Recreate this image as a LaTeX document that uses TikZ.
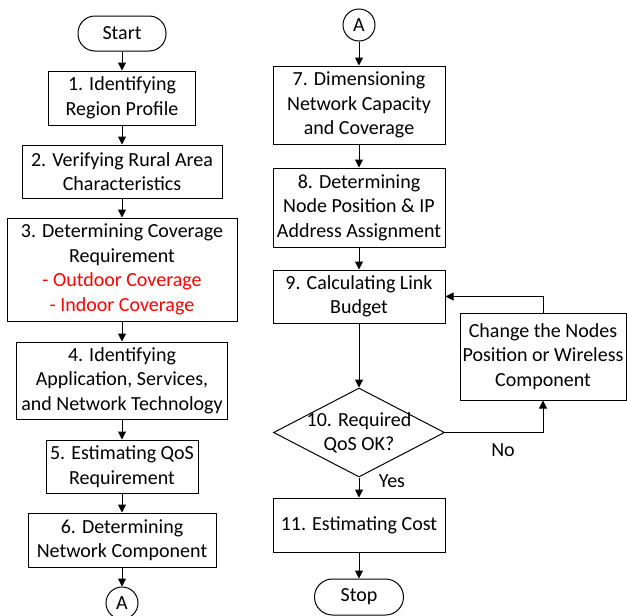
\documentclass[tikz,border=0pt]{standalone}
\usepackage{fontspec}
\setmainfont{Carlito}
\usetikzlibrary{shapes.geometric,arrows.meta}
\definecolor{myred}{RGB}{255,0,0}
\begin{document}
\begin{tikzpicture}[x=1pt,y=-1pt,
  every node/.style={font=\fontsize{20}{24.5}\selectfont, align=center, inner sep=0pt},
  box/.style={draw, line width=1pt, rectangle},
  term/.style={draw, line width=1pt, rounded corners=17pt, rectangle},
  conn/.style={draw, line width=1pt, circle, minimum size=32pt},
  arr/.style={line width=1pt, -{Triangle[length=8pt,width=8pt]}}]
\clip (0,0) rectangle (627,616);
\useasboundingbox (0,0) rectangle (627,616);
% left column
\node[term, minimum width=88pt, minimum height=35pt] (start) at (122,33.5) {Start};
\node[box, minimum width=147pt, minimum height=54pt] (b1) at (122,98) {1. Identifying\\Region Profile};
\node[box, minimum width=200pt, minimum height=53pt] (b2) at (122,171.5) {2. Verifying Rural Area\\Characteristics};
\node[box, minimum width=230pt, minimum height=103pt] (b3) at (122,269.5) {3. Determining Coverage\\Requirement\\\textcolor{myred}{- Outdoor Coverage}\\\textcolor{myred}{- Indoor Coverage}};
\node[box, minimum width=211pt, minimum height=77pt] (b4) at (122,380.5) {4. Identifying\\Application, Services,\\and Network Technology};
\node[box, minimum width=152pt, minimum height=53pt] (b5) at (122,466.5) {5. Estimating QoS\\Requirement};
\node[box, minimum width=188pt, minimum height=54pt] (b6) at (122,540) {6. Determining\\Network Component};
\node[conn] (a1) at (122,603) {A};
% right column
\node[conn] (a2) at (359,25) {A};
\node[box, minimum width=172pt, minimum height=78pt] (b7) at (359,105) {7. Dimensioning\\Network Capacity\\and Coverage};
\node[box, minimum width=172pt, minimum height=79pt] (b8) at (359,207.5) {8. Determining\\Node Position \& IP\\Address Assignment};
\node[box, minimum width=172pt, minimum height=53pt] (b9) at (359,296.5) {9. Calculating Link\\Budget};
\node[draw, line width=1pt, diamond, minimum width=171pt, minimum height=89pt] (dia) at (359,432.5) {};
\node (diat) at (359,433) {10. Required\\QoS OK?};
\node[box, minimum width=172pt, minimum height=54pt] (b11) at (359,525) {11. Estimating Cost};
\node[term, minimum width=89pt, minimum height=36pt, rounded corners=18pt] (stop) at (359,597) {Stop};
\node[box, minimum width=166pt, minimum height=87pt] (chg) at (543,356.5) {Change the Nodes\\Position or Wireless\\Component};
\node (no) at (503,450) {No};
\node (yes) at (392,481) {Yes};
% connectors
\draw[arr] (start) -- (b1);
\draw[arr] (b1) -- (b2);
\draw[arr] (b2) -- (b3);
\draw[arr] (b3) -- (b4);
\draw[arr] (b4) -- (b5);
\draw[arr] (b5) -- (b6);
\draw[arr] (b6) -- (a1);
\draw[arr] (a2) -- (b7);
\draw[arr] (b7) -- (b8);
\draw[arr] (b8) -- (b9);
\draw[arr] (b9) -- (dia);
\draw[arr] (dia) -- (b11);
\draw[arr] (b11) -- (stop);
\draw[arr] (dia.east) -| (chg.south);
\draw[arr] (chg.north) |- (b9.east);
\end{tikzpicture}
\end{document}
